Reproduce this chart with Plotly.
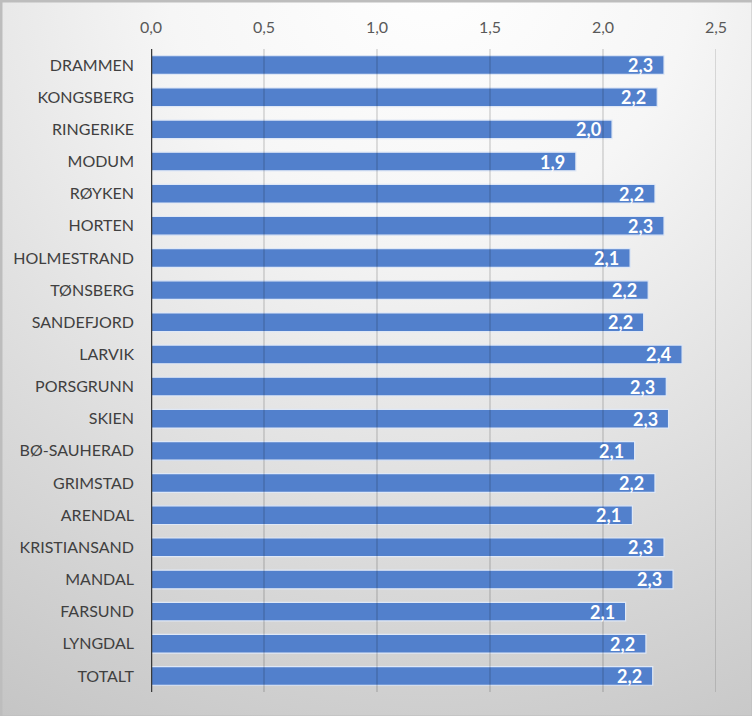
import base64
import plotly.graph_objects as go

categories = ["DRAMMEN", "KONGSBERG", "RINGERIKE", "MODUM", "RØYKEN", "HORTEN",
              "HOLMESTRAND", "TØNSBERG", "SANDEFJORD", "LARVIK", "PORSGRUNN", "SKIEN",
              "BØ-SAUHERAD", "GRIMSTAD", "ARENDAL", "KRISTIANSAND", "MANDAL", "FARSUND",
              "LYNGDAL", "TOTALT"]
values = [2.27, 2.24, 2.04, 1.88, 2.23, 2.27,
          2.12, 2.20, 2.18, 2.35, 2.28, 2.29,
          2.14, 2.23, 2.13, 2.27, 2.31, 2.10,
          2.19, 2.22]
tick_vals = [0.0, 0.5, 1.0, 1.5, 2.0, 2.5]
tick_text = ["0,0", "0,5", "1,0", "1,5", "2,0", "2,5"]

W, H = 752, 716
L, R, T, B = 151, 36, 49, 24
pw, ph = W - L - R, H - T - B

svg = f'''<svg xmlns="http://www.w3.org/2000/svg" width="{W}" height="{H}">
<defs><radialGradient id="g" gradientUnits="userSpaceOnUse" cx="430" cy="-40" r="880">
<stop offset="0" stop-color="#ffffff"/><stop offset="0.3" stop-color="#f6f6f6"/>
<stop offset="1" stop-color="#c4c4c4"/></radialGradient></defs>
<rect x="0" y="0" width="{W}" height="{H}" fill="url(#g)"/>
<rect x="1" y="1" width="{W}" height="{H}" fill="none" stroke="#bdbdbd" stroke-width="3"/>
</svg>'''
bg = "data:image/svg+xml;base64," + base64.b64encode(svg.encode()).decode()

FONT = "Lato, 'Open Sans', sans-serif"

fig = go.Figure()
fig.add_trace(go.Bar(
    x=values, y=categories, orientation="h",
    marker=dict(color="#5280cc", line=dict(color="#dfe8f6", width=1.2)),
    width=0.58, hoverinfo="skip",
))

annotations = []
for c, v in zip(categories, values):
    annotations.append(dict(
        x=v, y=c, xref="x", yref="y", text=f"<b>{v:.1f}</b>".replace(".", ","),
        showarrow=False, xanchor="right", xshift=-9, yshift=0,
        font=dict(family=FONT, size=18, color="white"),
    ))

shapes = []
for tv in tick_vals[1:]:
    shapes.append(dict(type="line", xref="x", yref="paper", x0=tv, x1=tv, y0=0, y1=1,
                       line=dict(color="rgba(0,0,0,0.18)", width=1.3), layer="above"))
shapes.append(dict(type="line", xref="x", yref="paper", x0=0, x1=0, y0=0, y1=1,
                   line=dict(color="#3a3a3a", width=2.5), layer="above"))

fig.update_layout(
    width=W, height=H,
    margin=dict(l=L, r=R, t=T, b=B, pad=0),
    paper_bgcolor="rgba(0,0,0,0)", plot_bgcolor="rgba(0,0,0,0)",
    showlegend=False,
    annotations=annotations,
    shapes=shapes,
    images=[dict(source=bg, xref="paper", yref="paper",
                 x=-L / pw, y=1 + T / ph, sizex=W / pw, sizey=H / ph,
                 xanchor="left", yanchor="top", sizing="stretch", layer="below")],
    xaxis=dict(range=[0, 2.5], side="top", tickvals=tick_vals, ticktext=tick_text,
               showgrid=False, zeroline=False, showline=False,
               tickfont=dict(family=FONT, size=16, color="#595959"),
               ticks="", ticklabelstandoff=12, fixedrange=True),
    yaxis=dict(autorange="reversed", showgrid=False, zeroline=False, showline=False,
               tickfont=dict(family=FONT, size=16, color="#404040"),
               ticks="", ticklabelstandoff=16, fixedrange=True),
)

fig.write_html("out.html")
